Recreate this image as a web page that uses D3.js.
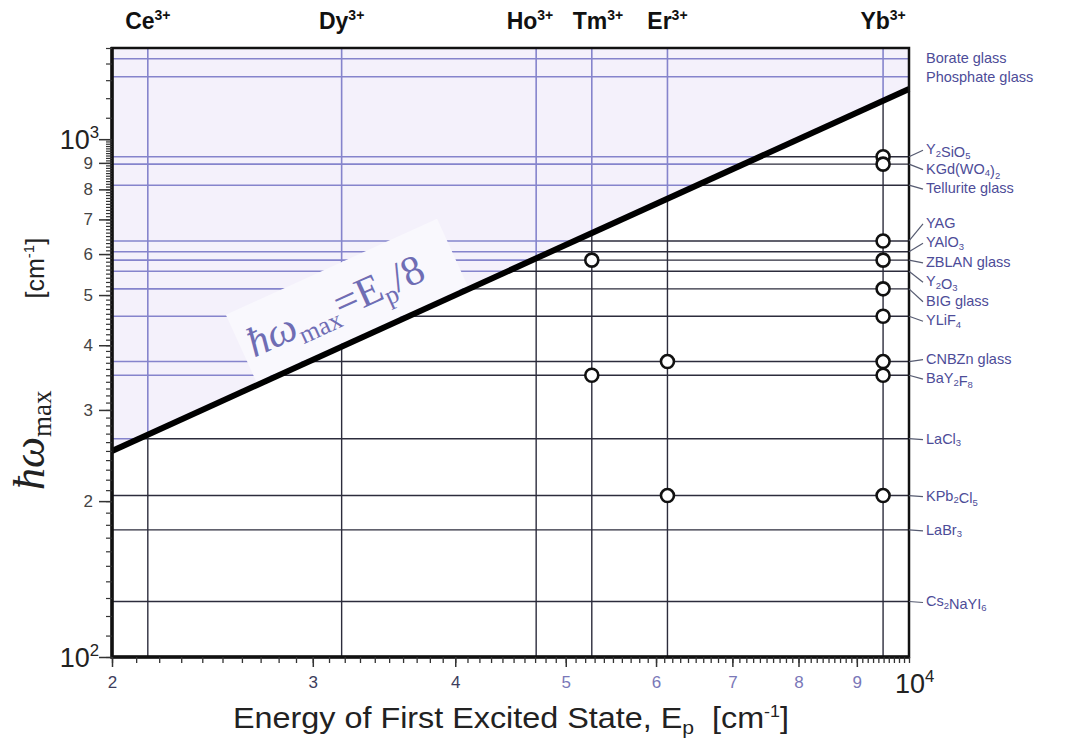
<!DOCTYPE html>
<html>
<head>
<meta charset="utf-8">
<script src="https://cdn.jsdelivr.net/npm/d3@7"></script>
<style>
  body { margin: 0; background: #fff; }
  svg { display: block; font-family: "Liberation Sans", Arial, sans-serif; }
</style>
</head>
<body>
<svg id="chart" width="1081" height="740"></svg>
<script>
/* ------------------------------- data ---------- */
const ionNames  = ['Ce', 'Dy', 'Ho', 'Tm', 'Er', 'Yb'];
const ionEnergy = [2150, 3180, 4710, 5270, 6140, 9490];      // first excited state, cm-1

// host phonon energies, cm-1 ("_x" = subscript x)
const hostNames  = ['Borate glass', 'Phosphate glass', 'Y_2SiO_5', 'KGd(WO_4)_2', 'Tellurite glass',
                    'YAG', 'YAlO_3', 'ZBLAN glass', 'Y_2O_3', 'BIG glass', 'YLiF_4',
                    'CNBZn glass', 'BaY_2F_8', 'LaCl_3', 'KPb_2Cl_5', 'LaBr_3', 'Cs_2NaYI_6'];
const hostPhonon = [1430, 1320, 925, 895, 815, 636, 606, 584, 556, 514, 455, 372, 350, 264, 205, 176, 128];

// open circles: ion / host combinations marked in the figure
const ybHosts = ['Y_2SiO_5', 'KGd(WO_4)_2', 'YAG', 'ZBLAN glass', 'BIG glass', 'YLiF_4',
                 'CNBZn glass', 'BaY_2F_8', 'KPb_2Cl_5'];
const tmHosts = ['ZBLAN glass', 'BaY_2F_8'];
const erHosts = ['CNBZn glass', 'KPb_2Cl_5'];

const ratio = 8;                                   // hw_max = Ep / 8
const xDomain = [2000, 10000];
const yDomain = [100, 1500];
const xTickVals   = [2000, 3000, 4000, 5000, 6000, 7000, 8000, 9000];
const xTickLabels = ['2', '3', '4', '5', '6', '7', '8', '9'];
const yTickVals   = [200, 300, 400, 500, 600, 700, 800, 900];
const yTickLabels = ['2', '3', '4', '5', '6', '7', '8', '9'];

/* ------------------------------- setup ------------------------------- */
const svg = d3.select('#chart');
const L = 112, R = 909, T = 48, B = 657;
const x = d3.scaleLog().domain(xDomain).range([L, R]);
const y = d3.scaleLog().domain(yDomain).range([B, T]);

const BLUE_LINE = '#8584cc', DARK_LINE = '#2c2c3c';
const LABEL_BLUE = '#4d4c98';

// rich text: "_c" -> subscript c
function rich(sel, str, subSize, shift) {
  const parts = str.split(/(_.)/).filter(s => s.length);
  parts.forEach(p => {
    if (p[0] === '_') {
      sel.append('tspan').attr('font-size', subSize).attr('dy', shift).text(p[1]);
      sel.append('tspan').attr('dy', -shift).text('');
    } else {
      sel.append('tspan').text(p);
    }
  });
}

// keep labels from overlapping: groups are centred on the mean of their anchors
function spread(vals, gap) {
  const groups = [];
  vals.forEach((v, i) => {
    groups.push({idx: [i], sum: v});
    while (groups.length > 1) {
      const b = groups[groups.length - 1], a = groups[groups.length - 2];
      const aEnd = a.sum / a.idx.length + (a.idx.length - 1) * gap / 2;
      const bStart = b.sum / b.idx.length - (b.idx.length - 1) * gap / 2;
      if (bStart - aEnd >= gap) break;
      groups.pop();
      a.idx.push(...b.idx);
      a.sum += b.sum;
    }
  });
  const out = [];
  groups.forEach(g => {
    const m = g.sum / g.idx.length, n = g.idx.length;
    g.idx.forEach((i, k) => out[i] = m + (k - (n - 1) / 2) * gap);
  });
  return out;
}

/* ------------------------------- regions ----------------------------- */
const limitLine = xDomain.map(e => [x(e), y(e / ratio)]);
const defs = svg.append('defs');
defs.append('clipPath').attr('id', 'upper').append('polygon')
  .attr('points', [[L, T], [R, T], limitLine[1], limitLine[0]].join(' '));
defs.append('clipPath').attr('id', 'lower').append('polygon')
  .attr('points', [limitLine[0], limitLine[1], [R, B], [L, B]].join(' '));

svg.append('polygon')
  .attr('points', [[L, T], [R, T], limitLine[1], limitLine[0]].join(' '))
  .attr('fill', '#f4f1fb');

function gridLines(clip, col, w) {
  const g = svg.append('g').attr('clip-path', `url(#${clip})`);
  g.selectAll('.h').data(hostPhonon).enter().append('line')
    .attr('x1', L).attr('x2', R)
    .attr('y1', d => y(d)).attr('y2', d => y(d))
    .attr('stroke', col).attr('stroke-width', w);
  g.selectAll('.v').data(ionEnergy).enter().append('line')
    .attr('x1', d => x(d)).attr('x2', d => x(d))
    .attr('y1', T).attr('y2', B)
    .attr('stroke', col).attr('stroke-width', w);
}
gridLines('upper', BLUE_LINE, 1.6);
gridLines('lower', DARK_LINE, 1.4);

/* ------------------------------- limit line + its label -------------- */
const ang = Math.atan2(limitLine[1][1] - limitLine[0][1], limitLine[1][0] - limitLine[0][0]) * 180 / Math.PI;
const tag = svg.append('g')
  .attr('transform', `translate(${limitLine[0][0]},${limitLine[0][1]}) rotate(${ang})`);
tag.append('rect')
  .attr('x', 160).attr('y', -77).attr('width', 232).attr('height', 74)
  .attr('fill', '#f9f8fd');
const tagText = tag.append('text')
  .attr('x', 168).attr('y', -26)
  .attr('font-family', '"Liberation Serif", "DejaVu Serif", serif')
  .attr('fill', '#6f6db4').attr('font-size', 42);
tagText.append('tspan').attr('font-style', 'italic').text('ħω');
tagText.append('tspan').attr('font-size', 26).attr('dy', 8).text('max');
tagText.append('tspan').attr('dy', -8).text('=E');
tagText.append('tspan').attr('font-size', 26).attr('dy', 8).text('p');
tagText.append('tspan').attr('dy', -8).text('/8');

svg.append('path')
  .attr('d', d3.line()(limitLine))
  .attr('stroke', '#000').attr('stroke-width', 6).attr('fill', 'none');

/* ------------------------------- circles ----------------------------- */
const marks = [];
[[ 'Yb', ybHosts ], [ 'Tm', tmHosts ], [ 'Er', erHosts ]].forEach(([ion, hosts]) => {
  hosts.forEach(h => marks.push({
    e: ionEnergy[ionNames.indexOf(ion)],
    p: hostPhonon[hostNames.indexOf(h)]
  }));
});
svg.selectAll('.mark').data(marks).enter().append('circle')
  .attr('cx', d => x(d.e)).attr('cy', d => y(d.p)).attr('r', 6.5)
  .attr('fill', '#fff').attr('stroke', '#111').attr('stroke-width', 2.6);

/* ------------------------------- frame + axes ------------------------ */
svg.append('rect')
  .attr('x', L).attr('y', T).attr('width', R - L).attr('height', B - T)
  .attr('fill', 'none').attr('stroke', '#111').attr('stroke-width', 2.5);
svg.append('path').attr('d', `M${L},${T - 1}V${B}H${R + 1}`)
  .attr('stroke', '#111').attr('stroke-width', 3.5).attr('fill', 'none');

const xMinor = d3.range(2000, 10001, 100);
svg.append('g').attr('transform', `translate(0,${B})`)
  .call(d3.axisBottom(x).tickValues(xMinor).tickSize(6).tickFormat(''))
  .call(g => { g.select('.domain').remove(); g.selectAll('line').attr('stroke', '#333').attr('stroke-width', 1.3); });
svg.append('g').attr('transform', `translate(0,${B})`)
  .call(d3.axisBottom(x).tickValues(xTickVals).tickSize(10).tickPadding(9)
    .tickFormat((d, i) => xTickLabels[i]))
  .call(g => {
    g.select('.domain').remove();
    g.selectAll('line').attr('stroke', '#333').attr('stroke-width', 1.5);
    g.selectAll('text').attr('font-size', 17).attr('font-family', '"Liberation Sans", Arial, sans-serif')
      .attr('fill', (d, i) => i < 3 ? '#3d3d5c' : '#7a78b8');
  });

const yMinor = d3.range(100, 1000, 10).concat(d3.range(1000, 1501, 100));
svg.append('g').attr('transform', `translate(${L},0)`)
  .call(d3.axisLeft(y).tickValues(yMinor).tickSize(6).tickFormat(''))
  .call(g => { g.select('.domain').remove(); g.selectAll('line').attr('stroke', '#333').attr('stroke-width', 1.2); });
svg.append('g').attr('transform', `translate(${L},0)`)
  .call(d3.axisLeft(y).tickValues(yTickVals.concat([100, 1000])).tickSize(13).tickPadding(6)
    .tickFormat((d, i) => yTickLabels[i] || ''))
  .call(g => {
    g.select('.domain').remove();
    g.selectAll('line').attr('stroke', '#333').attr('stroke-width', 1.5);
    g.selectAll('text').attr('font-size', 17).attr('font-family', '"Liberation Sans", Arial, sans-serif')
      .attr('fill', '#444');
  });

function power(px, py, exp, size, anchor) {
  const t = svg.append('text').attr('x', px).attr('y', py)
    .attr('text-anchor', anchor).attr('font-size', size).attr('fill', '#222');
  t.append('tspan').text('10');
  t.append('tspan').attr('font-size', size * 0.62).attr('dy', -size * 0.42).text(exp);
}
power(99, y(1000) + 10, '3', 27, 'end');
power(99, y(100) + 10, '2', 27, 'end');
power(x(10000) - 14, B + 36, '4', 27, 'start');

/* ------------------------------- host labels (right) ----------------- */
const hostY = spread(hostPhonon.map(d => y(d)), 19.5);
hostNames.forEach((h, i) => {
  const ly = y(hostPhonon[i]);
  if (ly > y(xDomain[1] / ratio)) {
    svg.append('line')
      .attr('x1', R).attr('y1', ly).attr('x2', R + 14).attr('y2', hostY[i] + 1)
      .attr('stroke', '#555a70').attr('stroke-width', 1.2);
  }
  const t = svg.append('text')
    .attr('x', R + 17).attr('y', hostY[i] + 5)
    .attr('font-size', 14.5).attr('fill', LABEL_BLUE);
  rich(t, h, 9.5, 2.5);
});

/* ------------------------------- ion labels (top) -------------------- */
const ionX = spread(ionEnergy.map(d => x(d)), 68);
ionNames.forEach((n, i) => {
  const t = svg.append('text')
    .attr('x', ionX[i]).attr('y', 29).attr('text-anchor', 'middle')
    .attr('font-size', 23).attr('font-weight', 'bold').attr('fill', '#111');
  t.append('tspan').text(n);
  t.append('tspan').attr('font-size', 14).attr('dy', -9).text('3+');
});

/* ------------------------------- axis titles ------------------------- */
const xt = svg.append('text')
  .attr('x', 511).attr('y', 728).attr('text-anchor', 'middle')
  .attr('font-size', 29).attr('fill', '#222')
  .attr('textLength', 556).attr('lengthAdjust', 'spacingAndGlyphs');
xt.append('tspan').text('Energy of First Excited State, E');
xt.append('tspan').attr('font-size', 19).attr('dy', 6).text('p');
xt.append('tspan').attr('dy', -6).text('\u00a0\u00a0[cm');
xt.append('tspan').attr('font-size', 16).attr('dy', -11).text('-1');
xt.append('tspan').attr('dy', 11).text(']');

const yt = svg.append('text')
  .attr('transform', 'translate(44,490) rotate(-90)')
  .attr('fill', '#222');
yt.append('tspan').attr('font-family', '"Liberation Serif", serif').attr('font-style', 'italic')
  .attr('font-size', 44).text('ħω');
yt.append('tspan').attr('font-family', '"Liberation Serif", serif')
  .attr('font-size', 27).attr('dy', 7).text('max');
yt.append('tspan').attr('font-size', 25).attr('dy', -7).attr('dx', 92).text('[cm');
yt.append('tspan').attr('font-size', 15).attr('dy', -10).text('-1');
yt.append('tspan').attr('font-size', 25).attr('dy', 10).text(']');
</script>
</body>
</html>
